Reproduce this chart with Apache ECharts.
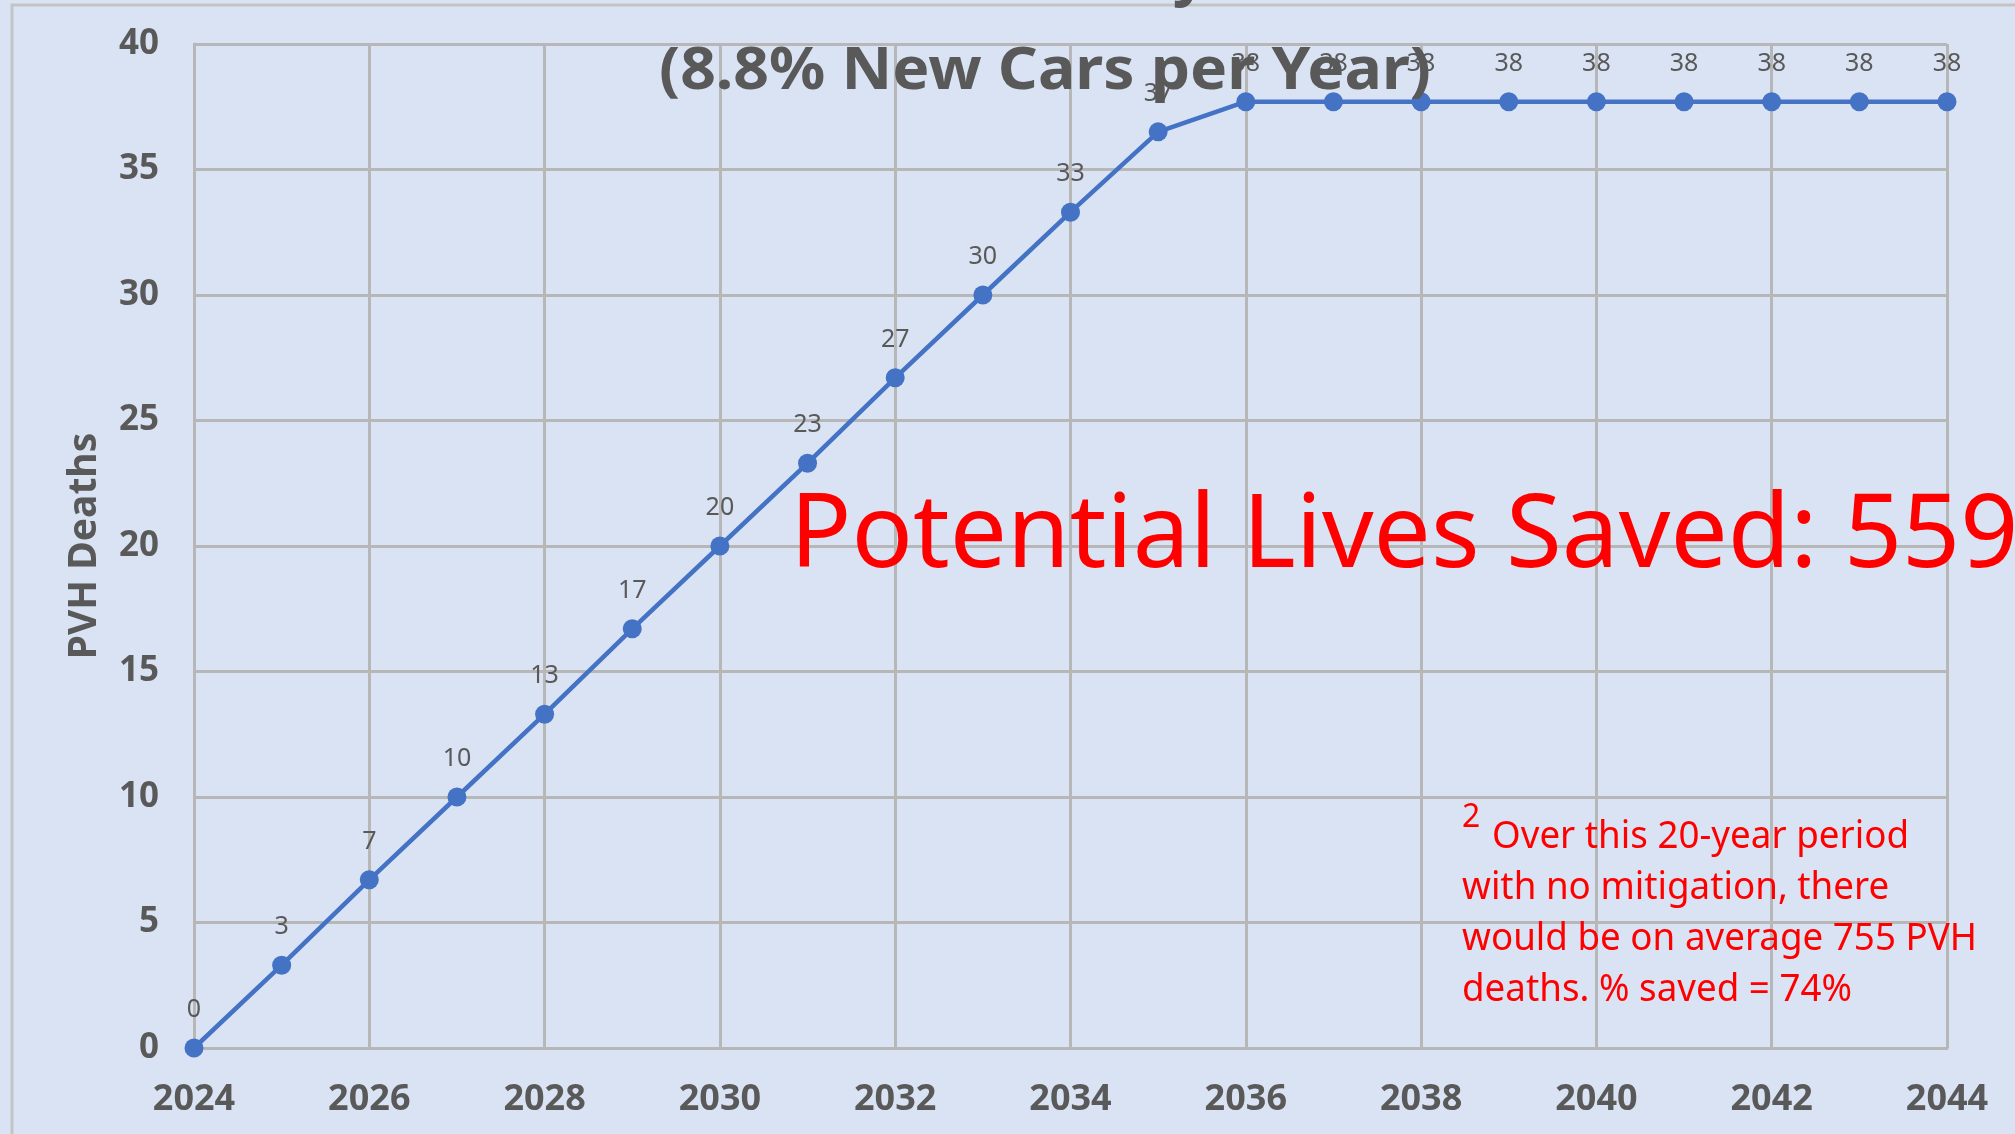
<!DOCTYPE html>
<html>
<head>
<meta charset="utf-8">
<script src="https://cdn.jsdelivr.net/npm/echarts@6/dist/echarts.min.js"></script>
<style>
html,body{margin:0;padding:0;background:#DAE3F3;}
#chart{width:2015px;height:1134px;}
</style>
</head>
<body>
<div id="chart"></div>
<script>
// ---- data ----
const years = ['2024','2025','2026','2027','2028','2029','2030','2031','2032','2033','2034',
               '2035','2036','2037','2038','2039','2040','2041','2042','2043','2044'];
const pvhDeaths = [0, 3.3, 6.7, 10, 13.3, 16.7, 20, 23.3, 26.7, 30, 33.3,
                   36.5, 37.7, 37.7, 37.7, 37.7, 37.7, 37.7, 37.7, 37.7, 37.7];
const yTicks = [0, 5, 10, 15, 20, 25, 30, 35, 40];
const titleText = '(8.8% New Cars per Year)';
const bigText = 'Potential Lives Saved: 559';
const noteSup = '2';
const noteLines = ['Over this 20-year period', 'with no mitigation, there',
                   'would be on average 755 PVH', 'deaths. % saved = 74%'];
const yName = 'PVH Deaths';

// ---- helpers ----
const ctx = document.createElement('canvas').getContext('2d');
function measure(font, text) { ctx.font = font; return ctx.measureText(text).width; }
const FF = '"Noto Sans"';

const titleFont = 'bold 60px ' + FF;
const titleScale = 772 / measure(titleFont, titleText);
const bigFont = '102px ' + FF;
const bigScale = 716 / measure(bigFont, 'Potential Lives ');
const noteFont = '38px ' + FF;
const noteScale = 515 / measure(noteFont, noteLines[2]);

const gridColor = '#B7B7B7';
const textGray = '#595959';

const chart = echarts.init(document.getElementById('chart'));
chart.setOption({
  backgroundColor: '#DAE3F3',
  animation: false,
  grid: { left: 194, right: 68, top: 44, bottom: 86 },
  xAxis: {
    type: 'category',
    data: years,
    boundaryGap: false,
    axisLine: { show: true, lineStyle: { color: gridColor, width: 3 } },
    axisTick: { show: false },
    axisLabel: { interval: 1, margin: 34, color: textGray, fontFamily: FF, fontWeight: 'bold', fontSize: 36 },
    splitLine: { show: true, interval: 1, lineStyle: { color: gridColor, width: 3 } }
  },
  yAxis: {
    type: 'value',
    min: yTicks[0], max: yTicks[yTicks.length - 1], interval: 5,
    name: yName,
    nameLocation: 'middle',
    nameRotate: 90,
    nameGap: 90,
    nameTextStyle: { color: textGray, fontFamily: FF, fontWeight: 'bold', fontSize: 39 },
    axisLine: { show: true, lineStyle: { color: gridColor, width: 3 } },
    axisTick: { show: false },
    axisLabel: { margin: 35, color: textGray, fontFamily: FF, fontWeight: 'bold', fontSize: 35 },
    splitLine: { show: true, lineStyle: { color: gridColor, width: 3 } }
  },
  series: [{
    type: 'line',
    data: pvhDeaths,
    symbol: 'circle',
    symbolSize: 19,
    lineStyle: { color: '#4472C4', width: 4.5 },
    itemStyle: { color: '#4472C4' },
    label: {
      show: true, position: 'top', distance: 16,
      color: textGray, fontFamily: FF, fontSize: 25,
      formatter: p => String(Math.round(p.value))
    },
    z: 3
  }],
  graphic: [
    { type: 'rect', z: -1, silent: true,
      shape: { x: 12, y: 5, width: 2200, height: 1300 },
      style: { fill: null, stroke: '#C4C4C4', lineWidth: 3 } },
    { type: 'text', z: 100, x: 1190, y: 7,
      style: { text: 'y', font: 'bold 60px ' + FF, fill: textGray, align: 'center', verticalAlign: 'bottom',
               shadowColor: 'rgba(0,0,0,0.4)', shadowBlur: 4, shadowOffsetX: 2, shadowOffsetY: 2 } },
    { type: 'text', z: 100, x: 1045, y: 72, scaleX: titleScale,
      style: { text: titleText, font: titleFont, fill: textGray, align: 'center', verticalAlign: 'middle',
               shadowColor: 'rgba(0,0,0,0.25)', shadowBlur: 3, shadowOffsetX: 1, shadowOffsetY: 2 } },
    { type: 'text', z: 100, x: 790, y: 538, scaleX: bigScale,
      style: { text: bigText, font: bigFont, fill: '#FF0000', align: 'left', verticalAlign: 'middle',
               shadowColor: 'rgba(0,0,0,0.45)', shadowBlur: 5, shadowOffsetX: 3, shadowOffsetY: 3 } },
    { type: 'text', z: 100, x: 1462, y: 818, scaleX: noteScale,
      style: { text: noteSup, font: '33px ' + FF, fill: '#FF0000', align: 'left', verticalAlign: 'middle' } },
    { type: 'text', z: 100, x: 1492, y: 837, scaleX: noteScale,
      style: { text: noteLines[0], font: noteFont, fill: '#FF0000', align: 'left', verticalAlign: 'middle' } },
    { type: 'text', z: 100, x: 1462, y: 888, scaleX: noteScale,
      style: { text: noteLines[1], font: noteFont, fill: '#FF0000', align: 'left', verticalAlign: 'middle' } },
    { type: 'text', z: 100, x: 1462, y: 939, scaleX: noteScale,
      style: { text: noteLines[2], font: noteFont, fill: '#FF0000', align: 'left', verticalAlign: 'middle' } },
    { type: 'text', z: 100, x: 1462, y: 990, scaleX: noteScale,
      style: { text: noteLines[3], font: noteFont, fill: '#FF0000', align: 'left', verticalAlign: 'middle' } }
  ]
});
</script>
</body>
</html>
